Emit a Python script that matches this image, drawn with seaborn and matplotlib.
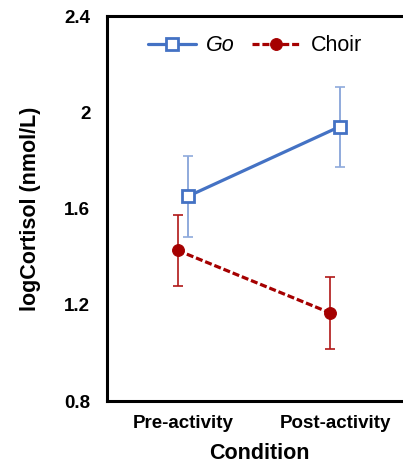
import numpy as np
import matplotlib.pyplot as plt
import seaborn as sns

conditions = ['Pre-activity', 'Post-activity']
go_mean = [1.65, 1.94]
go_err = [0.17, 0.167]
choir_mean = [1.426, 1.167]
choir_err = [0.148, 0.149]

sns.set_style("white")
plt.rcParams['font.family'] = ['Liberation Sans', 'DejaVu Sans']
plt.rcParams['text.color'] = 'black'
plt.rcParams['axes.labelcolor'] = 'black'
plt.rcParams['xtick.color'] = 'black'
plt.rcParams['ytick.color'] = 'black'

fig = plt.figure(figsize=(4.03, 4.67), dpi=100)
ax = fig.add_axes([0.2655, 0.1413, 0.7543, 0.8244])

xpos = np.arange(len(conditions))
go_x = xpos + 0.03
choir_x = xpos - 0.035

# error bars first so markers sit on top
ax.errorbar(go_x, go_mean, yerr=go_err, fmt='none', ecolor='#8FAADC',
            elinewidth=1.4, capsize=3.5, capthick=1.2, zorder=1)
ax.errorbar(choir_x, choir_mean, yerr=choir_err, fmt='none', ecolor='#B01818',
            elinewidth=1.2, capsize=3.5, capthick=1.2, zorder=1)

sns.lineplot(x=go_x, y=go_mean, ax=ax, color='#4472C4', linewidth=2.3,
             marker='s', markersize=8, markerfacecolor='white',
             markeredgecolor='#4472C4', markeredgewidth=2, label='Go', zorder=3)
sns.lineplot(x=choir_x, y=choir_mean, ax=ax, color='#A50000', linewidth=2.3,
             linestyle=(0, (2.2, 0.9)), marker='o', markersize=8.5,
             markeredgecolor='#A50000', markerfacecolor='#A50000',
             label='Choir', zorder=3)

ax.set_xlim(-0.5, 1.5)
ax.set_ylim(0.8, 2.4)
ax.set_yticks([0.8, 1.2, 1.6, 2.0, 2.4])
ax.set_yticklabels(['0.8', '1.2', '1.6', '2', '2.4'])
ax.set_xticks(xpos)
ax.set_xticklabels(conditions)
ax.tick_params(axis='both', length=0, labelsize=13.5, colors='black')
ax.tick_params(axis='y', pad=12)
ax.tick_params(axis='x', pad=10)
for lbl in ax.get_xticklabels() + ax.get_yticklabels():
    lbl.set_fontweight('bold')

ax.set_xlabel('Condition', fontsize=15.5, fontweight='bold', labelpad=8, color='black')
ax.set_ylabel('logCortisol (nmol/L)', fontsize=15.5, fontweight='bold', labelpad=17,
              color='black')

for side in ['left', 'bottom', 'top']:
    ax.spines[side].set_color('black')
    ax.spines[side].set_linewidth(2.2)
ax.spines['right'].set_visible(False)

leg = ax.legend(loc='upper center', bbox_to_anchor=(0.487, 1.0), ncol=2,
                frameon=False, fontsize=15.5, handlelength=2.2,
                columnspacing=0.8, handletextpad=0.5)
leg.get_texts()[0].set_fontstyle('italic')
for t in leg.get_texts():
    t.set_color('black')

fig.savefig('out.png', dpi=100)
